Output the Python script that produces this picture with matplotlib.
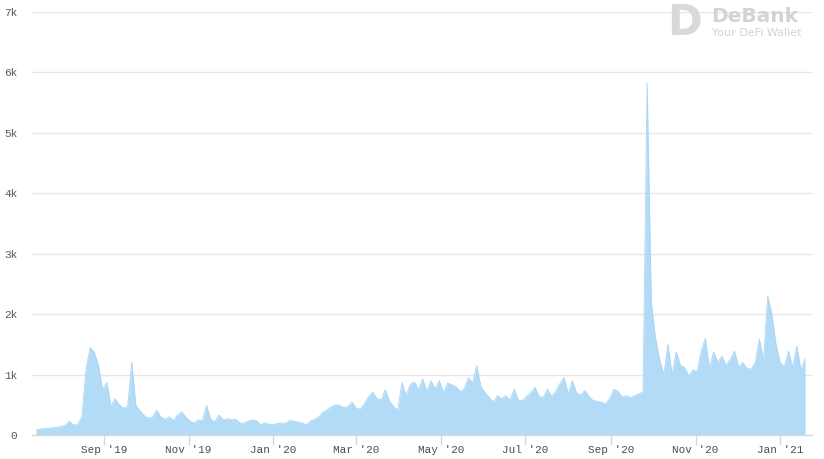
import numpy as np
import pandas as pd
import matplotlib
matplotlib.use("Agg")
import matplotlib.pyplot as plt

# values, one every 3 days starting 2019-07-14
start_date = "2019-07-14"
step_days = 3
values = [
    80, 100, 110, 110, 120, 130, 140, 160, 230, 160,
    180, 300, 1100, 1450, 1370, 1150, 750, 870, 480, 600,
    500, 440, 470, 1210, 480, 400, 320, 280, 300, 410,
    300, 260, 300, 240, 330, 380, 300, 230, 200, 250,
    240, 490, 260, 220, 330, 250, 270, 250, 260, 200,
    195, 230, 250, 240, 170, 200, 180, 170, 190, 200,
    190, 240, 230, 210, 200, 170, 230, 260, 300, 380,
    420, 465, 500, 490, 450, 470, 545, 440, 430, 520,
    640, 710, 600, 580, 750, 560, 470, 410, 870, 650,
    840, 880, 750, 930, 720, 900, 760, 900, 700, 860,
    830, 800, 720, 760, 950, 860, 1150, 800, 700, 620,
    550, 650, 600, 650, 580, 760, 580, 570, 640, 700,
    790, 640, 620, 760, 640, 720, 850, 950, 680, 900,
    700, 660, 740, 640, 570, 560, 540, 520, 600, 760,
    720, 630, 650, 620, 650, 680, 710, 5830, 2200, 1610,
    1250, 1000, 1500, 1000, 1380, 1150, 1120, 980, 1080, 1050,
    1390, 1600, 1100, 1380, 1200, 1310, 1150, 1250, 1390, 1130,
    1200, 1100, 1090, 1200, 1585, 1230, 2300, 2000, 1500, 1200,
    1130, 1390, 1120, 1470, 1080, 1260,
]
tick_dates = ["2019-09-01", "2019-11-01", "2020-01-01", "2020-03-01", "2020-05-01",
              "2020-07-01", "2020-09-01", "2020-11-01", "2021-01-01"]
tick_labels = ["Sep '19", "Nov '19", "Jan '20", "Mar '20", "May '20",
               "Jul '20", "Sep '20", "Nov '20", "Jan '21"]
y_ticks = [0, 1000, 2000, 3000, 4000, 5000, 6000, 7000]
y_labels = ["0", "1k", "2k", "3k", "4k", "5k", "6k", "7k"]

dates = pd.date_range(start_date, periods=len(values), freq=f"{step_days}D")

W, H = 824, 459
fig = plt.figure(figsize=(W / 100, H / 100), dpi=100)
ax = fig.add_axes([32 / W, 24 / H, 780 / W, 423 / H])

fill_color = "#b1dbf7"
ax.fill_between(dates, values, 0, color=fill_color, linewidth=0)
ax.plot(dates, values, color="#a9d6f5", linewidth=0.6)

ax.set_xlim(pd.Timestamp("2019-07-11"), pd.Timestamp("2021-01-24"))
ax.set_ylim(0, 7000)

ax.set_yticks(y_ticks)
ax.set_yticklabels(y_labels)
ax.set_xticks(pd.to_datetime(tick_dates))
ax.set_xticklabels(tick_labels)

for y in y_ticks[1:]:
    ax.axhline(y, color="#e6e6e6", linewidth=1, zorder=0)

for s in ["top", "right", "left"]:
    ax.spines[s].set_visible(False)
ax.spines["bottom"].set_color("#d8d8d8")
ax.spines["bottom"].set_linewidth(1)

mono = "Liberation Mono"
ax.tick_params(axis="y", length=0, pad=10.5, labelsize=8, labelcolor="#5a5a5a")
ax.tick_params(axis="x", length=7, width=1, color="#d8d8d8", pad=0,
               labelsize=7.9, labelcolor="#4d4d4d")
for lbl in ax.get_xticklabels() + ax.get_yticklabels():
    lbl.set_fontfamily(mono)

# watermark
fig.text(684 / W, 1 - 23 / H, "D", fontsize=30, fontweight="bold",
         color="#d9d9d9", ha="center", va="center", family="DejaVu Sans")
fig.text(711 / W, 1 - 16 / H, "DeBank", fontsize=14.5, fontweight="bold",
         color="#d3d3d3", ha="left", va="center", family="DejaVu Sans")
fig.text(712 / W, 1 - 33 / H, "Your DeFi Wallet", fontsize=8,
         color="#d3d3d3", ha="left", va="center", family="DejaVu Sans")

fig.savefig("out.png", dpi=100)
